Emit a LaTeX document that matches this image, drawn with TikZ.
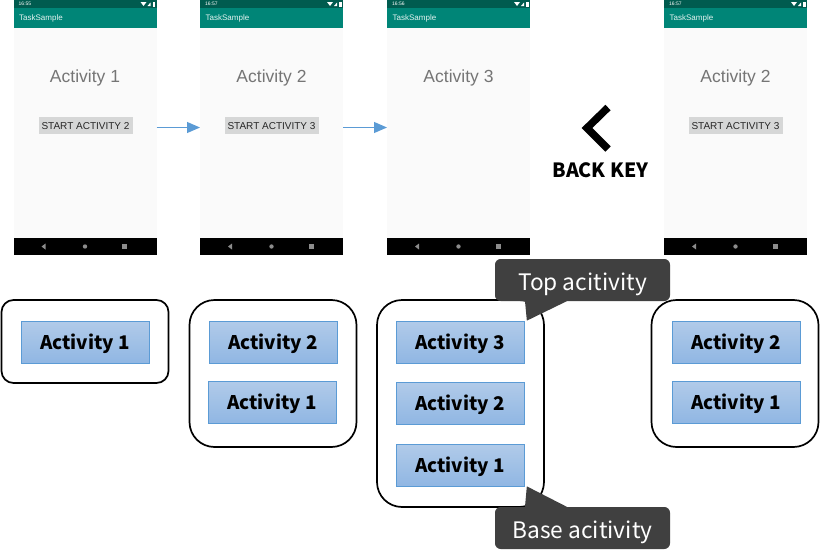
\documentclass[tikz,border=0pt]{standalone}
\usepackage{fontspec}
\setmainfont{Noto Sans CJK KR}
\newfontfamily\screenfont{Liberation Sans}
\usetikzlibrary{positioning, arrows.meta, calc}
\definecolor{appbar}{RGB}{0,133,119}
\definecolor{statusbar}{RGB}{0,91,79}
\definecolor{screen}{RGB}{250,250,250}
\definecolor{buttongray}{RGB}{214,215,215}
\definecolor{titlegray}{RGB}{117,117,117}
\definecolor{calloutgray}{RGB}{64,64,64}
\definecolor{arrowblue}{RGB}{91,155,213}
\definecolor{tasktop}{RGB}{177,203,233}
\definecolor{taskbottom}{RGB}{144,182,227}
\tikzset{phone/.style={
    rectangle,
    fill=screen,
    inner sep=0pt,
    outer sep=0pt,
    minimum width=143pt,
    minimum height=255pt
}}
\tikzset{bar/.style={
    rectangle,
    inner sep=0pt,
    outer sep=0pt,
    minimum width=143pt
}}
\tikzset{startbutton/.style={
    rectangle,
    fill=buttongray,
    inner sep=0pt,
    minimum width=94pt,
    minimum height=17pt,
    text height=8.5pt,
    text depth=0pt,
    font=\screenfont\fontsize{10}{11}\selectfont,
    text=black!85
}}
\tikzset{stack/.style={
    rectangle,
    draw=black,
    line width=1.7pt,
    fill=white,
    inner sep=0pt,
    minimum width=167pt
}}
\tikzset{activity/.style={
    rectangle,
    draw=arrowblue,
    line width=0.7pt,
    top color=tasktop,
    bottom color=taskbottom,
    inner sep=0pt,
    minimum width=128pt,
    minimum height=42pt,
    text height=15pt,
    text depth=0pt,
    font=\fontsize{18.8}{20}\selectfont\bfseries
}}
\tikzset{tip/.style={
    rectangle,
    rounded corners=2mm,
    fill=calloutgray,
    text=white,
    inner sep=0pt,
    minimum width=175pt,
    minimum height=42pt,
    text height=20.5pt,
    text depth=0pt,
    font=\fontsize{22.7}{24}\selectfont
}}
\begin{document}
\begin{tikzpicture}[x=1pt, y=-1pt, >={Triangle[length=13pt, width=11pt]}]
    \useasboundingbox (0,0) rectangle (820,557);
    % Screens
    \foreach \name/\cx/\clock/\title in {
        phoneA/85/16:55/Activity 1,
        phoneB/271.5/16:57/Activity 2,
        phoneC/458.5/16:56/Activity 3,
        phoneD/735.5/16:57/Activity 2} {
        \node (\name) [phone] at (\cx,127.5) {};
        \node (\name status) [bar, fill=statusbar, minimum height=8pt, below=0pt of \name.north] {};
        \node (\name app) [bar, fill=appbar, minimum height=20pt, below=0pt of \name status.south] {};
        \node (\name nav) [bar, fill=black, minimum height=17pt, above=0pt of \name.south] {};
        \node [right=5pt of \name status.west, inner sep=0pt, text=white, font=\screenfont\fontsize{5}{5}\selectfont] {\clock};
        \node [right=5.5pt of \name app.west, inner sep=0pt, text=white!90!appbar, font=\screenfont\fontsize{8}{8}\selectfont] {TaskSample};
        \node [below=42pt of \name app.south, inner sep=0pt, text=titlegray, font=\screenfont\fontsize{17.5}{18}\selectfont] {\title};
        % Status icons
        \fill [white] ($ (\name status.east) + (-16,-2) $) -- ++(6,0) -- ++(-3,4) -- cycle;
        \fill [white] ($ (\name status.east) + (-9,2) $) -- ++(3,0) -- ++(0,-3.5) -- cycle;
        \fill [white] ($ (\name status.east) + (-4,-2.5) $) rectangle ++(2.5,5);
        % Navigation icons
        \fill [black!45] ($ (\name nav) + (-43.5,0) $) -- ++(4,-3) -- ++(0,6) -- cycle;
        \fill [black!45] (\name nav) circle (2.2);
        \fill [black!45] ($ (\name nav) + (37,-2.5) $) rectangle ++(5,5);
    }
    \node (startB) [startbutton] at (85.5,125) {START ACTIVITY 2};
    \node (startC) [startbutton] at (271.5,125) {START ACTIVITY 3};
    \node (startD) [startbutton] at (735.5,125) {START ACTIVITY 3};
    \draw [->, arrowblue, line width=1pt] (phoneA) -- (phoneB);
    \draw [->, arrowblue, line width=1pt] (phoneB) -- (phoneC);
    % Back key
    \draw [line width=7.5pt, miter limit=4] (608,107.5) -- (587,128) -- (608,149);
    \node (back) at (600.5,170.5) [inner sep=0pt, text height=14pt, text depth=0pt, font=\fontsize{19.6}{21}\selectfont\bfseries] {BACK KEY};
    % Task stacks
    \node (stackA) [stack, rounded corners=12pt, minimum height=83pt] at (85,341.5) {};
    \node (stackB) [stack, rounded corners=25pt, minimum height=147pt] at (273,373.5) {};
    \node (stackC) [stack, rounded corners=25pt, minimum height=207pt] at (460.5,403.5) {};
    \node (stackD) [stack, rounded corners=25pt, minimum height=147pt] at (735,373.5) {};
    \node (taskA1) [activity] at (85,342) {Activity 1};
    \node (taskB2) [activity] at (273,342) {Activity 2};
    \node (taskB1) [activity] at (272,402) {Activity 1};
    \node (taskC3) [activity] at (460,342) {Activity 3};
    \node (taskC2) [activity] at (460,403) {Activity 2};
    \node (taskC1) [activity] at (460,465) {Activity 1};
    \node (taskD2) [activity] at (736,342) {Activity 2};
    \node (taskD1) [activity] at (736,402) {Activity 1};
    % Callouts
    \node (topTip) [tip] at (582.5,280) {Top acitivity};
    \node (baseTip) [tip] at (582.5,528) {Base acitivity};
    \fill [calloutgray] ($ (topTip.south west) + (30,-2) $) -- ($ (taskC3.north east) + (2.5,0) $) -- ($ (topTip.south west) + (72,0) $) -- cycle;
    \fill [calloutgray] ($ (baseTip.north west) + (30,2) $) -- ($ (taskC1.south east) + (2.5,0) $) -- ($ (baseTip.north west) + (72,0) $) -- cycle;
\end{tikzpicture}
\end{document}
